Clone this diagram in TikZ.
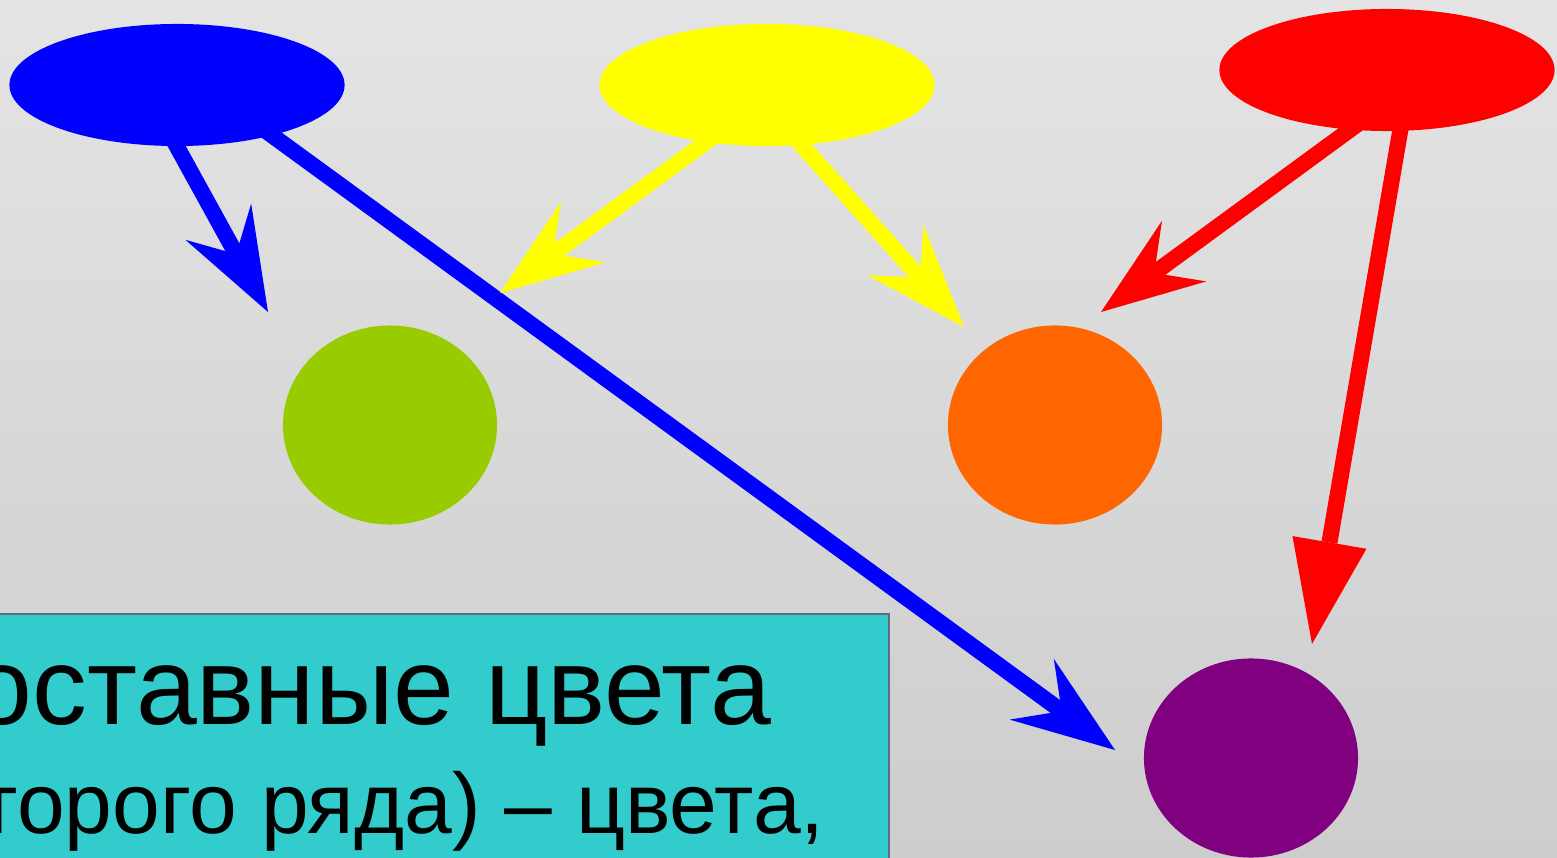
\documentclass[tikz,border=0pt]{standalone}
\usepackage{fontspec}
\setmainfont{Liberation Sans}
\usetikzlibrary{shapes.geometric,arrows.meta,positioning,calc}

\definecolor{bgtop}{RGB}{228,228,228}
\definecolor{bgbot}{RGB}{205,205,205}
\definecolor{pblue}{RGB}{0,0,255}
\definecolor{pyellow}{RGB}{255,255,0}
\definecolor{pred}{RGB}{255,0,0}
\definecolor{leaf}{RGB}{153,204,0}
\definecolor{carrot}{RGB}{255,102,0}
\definecolor{plum}{RGB}{128,0,128}
\definecolor{tealbox}{RGB}{51,204,204}
\definecolor{boxframe}{RGB}{96,106,128}

\tikzset{
  primary/.style={ellipse, minimum width=3.35cm, minimum height=1.22cm, inner sep=0pt},
  secondary/.style={ellipse, minimum width=2.14cm, minimum height=1.99cm, inner sep=0pt},
  mix/.style={line width=0.16cm, shorten <=-0.12cm, -{Stealth[length=1.03cm, width=0.75cm, inset=0.37cm, line width=0pt]}},
  mixlong/.style={line width=0.16cm, shorten <=-0.12cm, -{Triangle[length=1.03cm, width=0.75cm, line width=0pt]}}
}

\begin{document}
\begin{tikzpicture}[x=0.01cm, y=-0.01cm]
    \useasboundingbox (0,0) rectangle (1557,858);
    \clip (0,0) rectangle (1557,858);
    \shade[top color=bgtop, bottom color=bgbot] (0,0) rectangle (1557,858);

    % Text box
    \draw[fill=tealbox, draw=boxframe, line width=0.6pt] (-10,614) rectangle (889,870);
    \node[anchor=base west, inner sep=0pt, font=\fontsize{31.1}{36}\selectfont] (t1) at (-29,725) {оставные цвета};
    \node[anchor=base west, inner sep=0pt, font=\fontsize{24.4}{30}\selectfont] (t2) at (-22,833) {торого ряда) – цвета,};

    % Secondary colours
    \node[secondary, fill=leaf] (sg) at (390,425) {};
    \node[secondary, fill=carrot] (so) at (1055,425) {};
    \node[secondary, fill=plum] (sv) at (1251,758) {};

    % Primary colours
    \node[primary, fill=pblue] (pb) at (177,85) {};
    \node[primary, fill=pyellow] (py) at (767,85) {};
    \node[primary, fill=pred] (pr) at (1387,70) {};

    % Arrow tips
    \coordinate (tb1) at (268,312);
    \coordinate (tb2) at (1115,750);
    \coordinate (ty1) at (500,293);
    \coordinate (ty2) at (964,327);
    \coordinate (tr1) at (1101,312);
    \coordinate (tr2) at (1312,644);

    % Mixing arrows
    \draw[mix, pblue] (pb.south) -- (tb1);
    \draw[mix, pblue] (pb.-28) -- (tb2);
    \draw[mix, pyellow] (py.-137) -- (ty1);
    \draw[mix, pyellow] (py.-60) -- (ty2);
    \draw[mix, pred] (pr.-122) -- (tr1);
    \draw[mixlong, pred] (pr.-78) -- (tr2);
\end{tikzpicture}
\end{document}
